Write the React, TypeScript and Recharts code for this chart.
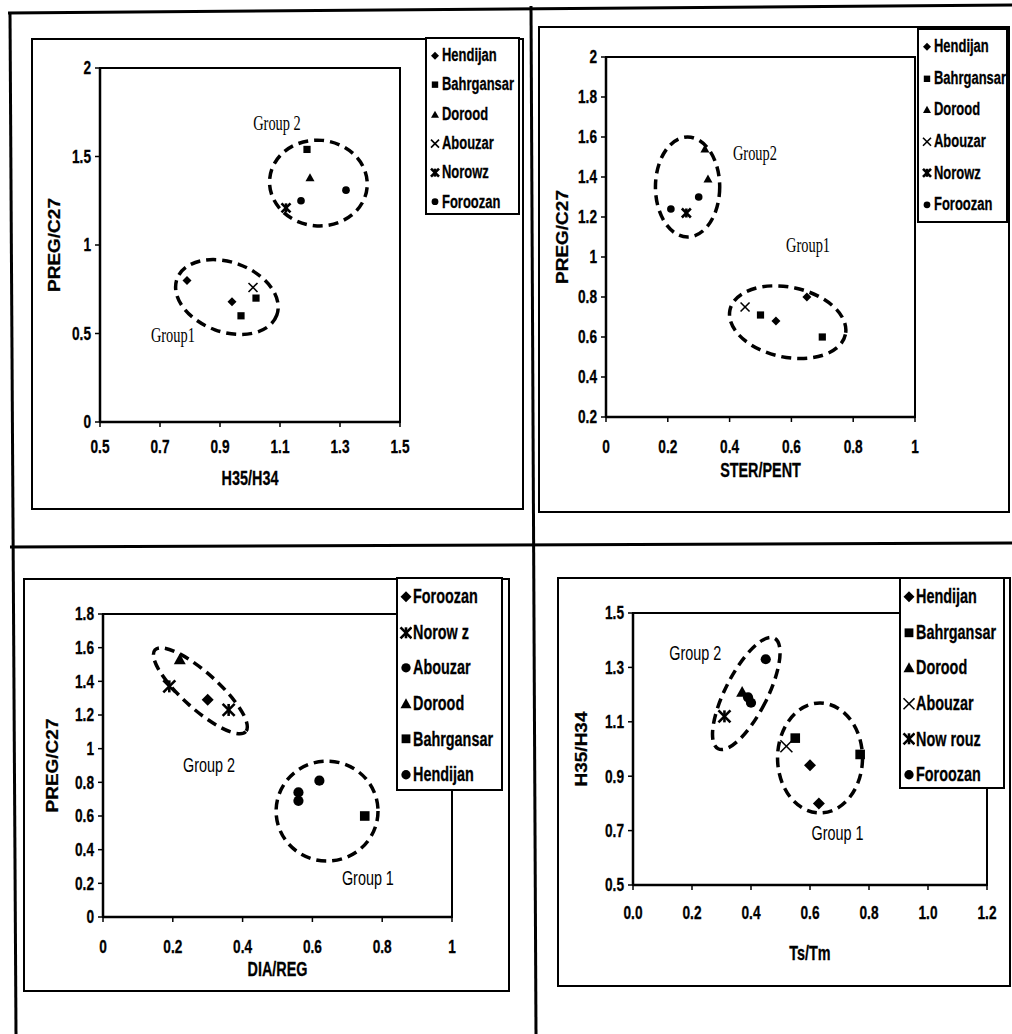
import { ScatterChart, Scatter, XAxis, YAxis, ReferenceArea, ReferenceDot, Legend, Label } from "recharts"

type Pt = { x: number; y: number }
type Kind = "diamond" | "square" | "triangle" | "x" | "star" | "circle"

// ---- panel 1: H35/H34 vs PREG/C27
const p1Hendijan: Pt[] = [{ x: 0.79, y: 0.8 }, { x: 0.94, y: 0.68 }]
const p1Bahrgansar: Pt[] = [{ x: 0.97, y: 0.6 }, { x: 1.02, y: 0.7 }, { x: 1.19, y: 1.54 }]
const p1Dorood: Pt[] = [{ x: 1.2, y: 1.38 }]
const p1Abouzar: Pt[] = [{ x: 1.01, y: 0.76 }]
const p1Norowz: Pt[] = [{ x: 1.12, y: 1.21 }]
const p1Foroozan: Pt[] = [{ x: 1.17, y: 1.25 }, { x: 1.32, y: 1.31 }]

// ---- panel 2: STER/PENT vs PREG/C27
const p2Hendijan: Pt[] = [{ x: 0.55, y: 0.68 }, { x: 0.65, y: 0.8 }]
const p2Bahrgansar: Pt[] = [{ x: 0.5, y: 0.71 }, { x: 0.7, y: 0.6 }]
const p2Dorood: Pt[] = [{ x: 0.33, y: 1.39 }, { x: 0.32, y: 1.54 }]
const p2Abouzar: Pt[] = [{ x: 0.45, y: 0.75 }]
const p2Norowz: Pt[] = [{ x: 0.26, y: 1.22 }]
const p2Foroozan: Pt[] = [{ x: 0.21, y: 1.24 }, { x: 0.3, y: 1.3 }]

// ---- panel 3: DIA/REG vs PREG/C27
const p3Foroozan: Pt[] = [{ x: 0.3, y: 1.29 }]
const p3Norowz: Pt[] = [{ x: 0.19, y: 1.37 }, { x: 0.36, y: 1.23 }]
const p3Abouzar: Pt[] = [{ x: 0.56, y: 0.74 }]
const p3Dorood: Pt[] = [{ x: 0.22, y: 1.53 }]
const p3Bahrgansar: Pt[] = [{ x: 0.75, y: 0.6 }]
const p3Hendijan: Pt[] = [{ x: 0.56, y: 0.69 }, { x: 0.62, y: 0.81 }]

// ---- panel 4: Ts/Tm vs H35/H34
const p4Hendijan: Pt[] = [{ x: 0.6, y: 0.94 }, { x: 0.63, y: 0.8 }]
const p4Bahrgansar: Pt[] = [{ x: 0.55, y: 1.04 }, { x: 0.77, y: 0.98 }]
const p4Dorood: Pt[] = [{ x: 0.37, y: 1.21 }]
const p4Abouzar: Pt[] = [{ x: 0.52, y: 1.01 }]
const p4Nowrouz: Pt[] = [{ x: 0.31, y: 1.12 }]
const p4Foroozan: Pt[] = [{ x: 0.45, y: 1.33 }, { x: 0.39, y: 1.19 }, { x: 0.4, y: 1.17 }]

const ticks1X = [0.5, 0.7, 0.9, 1.1, 1.3, 1.5]
const ticks1Y = [0, 0.5, 1, 1.5, 2]
const ticks2X = [0, 0.2, 0.4, 0.6, 0.8, 1]
const ticks2Y = [0.2, 0.4, 0.6, 0.8, 1, 1.2, 1.4, 1.6, 1.8, 2]
const ticks3X = [0, 0.2, 0.4, 0.6, 0.8, 1]
const ticks3Y = [0, 0.2, 0.4, 0.6, 0.8, 1, 1.2, 1.4, 1.6, 1.8]
const ticks4X = [0, 0.2, 0.4, 0.6, 0.8, 1.0, 1.2]
const ticks4Y = [0.5, 0.7, 0.9, 1.1, 1.3, 1.5]

const SQ = 0.72 // the scan is squeezed horizontally
const SANS = "'Liberation Sans', Arial, sans-serif"
const SERIF = "'Liberation Serif', 'Times New Roman', serif"
const Y_W = 40
const X_H = 30

function Marker({ kind, cx, cy, s }: { kind: Kind; cx: number; cy: number; s: number }) {
  switch (kind) {
    case "diamond":
      return <polygon points={`${cx},${cy - s} ${cx + s},${cy} ${cx},${cy + s} ${cx - s},${cy}`} fill="#000" />
    case "square":
      return <rect x={cx - s * 0.8} y={cy - s * 0.8} width={s * 1.6} height={s * 1.6} fill="#000" />
    case "triangle":
      return <polygon points={`${cx},${cy - s} ${cx + s},${cy + s * 0.8} ${cx - s},${cy + s * 0.8}`} fill="#000" />
    case "x":
      return (
        <g stroke="#000" strokeWidth={1.6}>
          <line x1={cx - s} y1={cy - s} x2={cx + s} y2={cy + s} />
          <line x1={cx - s} y1={cy + s} x2={cx + s} y2={cy - s} />
        </g>
      )
    case "star":
      return (
        <g stroke="#000" strokeWidth={2.6}>
          <line x1={cx - s} y1={cy - s} x2={cx + s} y2={cy + s} />
          <line x1={cx - s} y1={cy + s} x2={cx + s} y2={cy - s} />
          <line x1={cx} y1={cy - s} x2={cx} y2={cy + s} />
        </g>
      )
    default:
      return <circle cx={cx} cy={cy} r={s * 0.85} fill="#000" />
  }
}

interface Series { name: string; kind: Kind; data: Pt[] }
interface Box { left: number; top: number; right: number; bottom: number }
interface Ell { cx: number; cy: number; rx: number; ry: number; angle: number }
interface Grp { text: string; x: number; y: number }

interface PanelCfg {
  frame: Box
  plot: Box
  legend: Box & { rowH: number; padTop: number; sym: number; font: number }
  xDomain: [number, number]
  yDomain: [number, number]
  xTicks: number[]
  yTicks: number[]
  fmtX: (v: number) => string
  fmtY: (v: number) => string
  xTitle: string
  yTitle: string
  xTitleDy: number
  yTitleDx: number
  xTickDy: number
  markerSize: number
  series: Series[]
  groups: Grp[]
  groupFont: string
  ellipses: Ell[]
}

const panels: PanelCfg[] = [
  {
    frame: { left: 31, top: 38, right: 524, bottom: 510 },
    plot: { left: 100, top: 68, right: 400, bottom: 422 },
    legend: { left: 425, top: 37, right: 520, bottom: 215, rowH: 29.3, padTop: 2, sym: 4, font: 18 },
    xDomain: [0.5, 1.5], yDomain: [0, 2], xTicks: ticks1X, yTicks: ticks1Y,
    fmtX: (v) => String(v), fmtY: (v) => String(v),
    xTitle: "H35/H34", yTitle: "PREG/C27", xTitleDy: 56, yTitleDx: 45, xTickDy: 18,
    markerSize: 4.5,
    series: [
      { name: "Hendijan", kind: "diamond", data: p1Hendijan },
      { name: "Bahrgansar", kind: "square", data: p1Bahrgansar },
      { name: "Dorood", kind: "triangle", data: p1Dorood },
      { name: "Abouzar", kind: "x", data: p1Abouzar },
      { name: "Norowz", kind: "star", data: p1Norowz },
      { name: "Foroozan", kind: "circle", data: p1Foroozan },
    ],
    groups: [{ text: "Group 2", x: 1.09, y: 1.69 }, { text: "Group1", x: 0.743, y: 0.49 }],
    groupFont: SERIF,
    ellipses: [
      { cx: 1.228, cy: 1.35, rx: 0.163, ry: 0.242, angle: 5 },
      { cx: 0.923, cy: 0.706, rx: 0.177, ry: 0.197, angle: 20 },
    ],
  },
  {
    frame: { left: 538, top: 26, right: 1010, bottom: 513 },
    plot: { left: 606, top: 57, right: 915, bottom: 417 },
    legend: { left: 917, top: 28, right: 1008, bottom: 223, rowH: 31.6, padTop: 1, sym: 4, font: 18 },
    xDomain: [0, 1], yDomain: [0.2, 2], xTicks: ticks2X, yTicks: ticks2Y,
    fmtX: (v) => String(v), fmtY: (v) => String(v),
    xTitle: "STER/PENT", yTitle: "PREG/C27", xTitleDy: 53, yTitleDx: 43, xTickDy: 23,
    markerSize: 4.5,
    series: [
      { name: "Hendijan", kind: "diamond", data: p2Hendijan },
      { name: "Bahrgansar", kind: "square", data: p2Bahrgansar },
      { name: "Dorood", kind: "triangle", data: p2Dorood },
      { name: "Abouzar", kind: "x", data: p2Abouzar },
      { name: "Norowz", kind: "star", data: p2Norowz },
      { name: "Foroozan", kind: "circle", data: p2Foroozan },
    ],
    groups: [{ text: "Group2", x: 0.482, y: 1.52 }, { text: "Group1", x: 0.654, y: 1.06 }],
    groupFont: SERIF,
    ellipses: [
      { cx: 0.264, cy: 1.35, rx: 0.104, ry: 0.25, angle: 0 },
      { cx: 0.588, cy: 0.674, rx: 0.191, ry: 0.175, angle: 12 },
    ],
  },
  {
    frame: { left: 23, top: 578, right: 510, bottom: 992 },
    plot: { left: 103, top: 614, right: 452, bottom: 917 },
    legend: { left: 396, top: 577, right: 503, bottom: 791, rowH: 35.6, padTop: 0, sym: 5.5, font: 20 },
    xDomain: [0, 1], yDomain: [0, 1.8], xTicks: ticks3X, yTicks: ticks3Y,
    fmtX: (v) => String(v), fmtY: (v) => String(v),
    xTitle: "DIA/REG", yTitle: "PREG/C27", xTitleDy: 52, yTitleDx: 50, xTickDy: 23,
    markerSize: 6,
    series: [
      { name: "Foroozan", kind: "diamond", data: p3Foroozan },
      { name: "Norow z", kind: "star", data: p3Norowz },
      { name: "Abouzar", kind: "circle", data: p3Abouzar },
      { name: "Dorood", kind: "triangle", data: p3Dorood },
      { name: "Bahrgansar", kind: "square", data: p3Bahrgansar },
      { name: "Hendijan", kind: "circle", data: p3Hendijan },
    ],
    groups: [{ text: "Group 2", x: 0.304, y: 0.902 }, { text: "Group 1", x: 0.759, y: 0.231 }],
    groupFont: SANS,
    ellipses: [
      { cx: 0.279, cy: 1.344, rx: 0.175, ry: 0.107, angle: 42 },
      { cx: 0.642, cy: 0.629, rx: 0.146, ry: 0.297, angle: 0 },
    ],
  },
  {
    frame: { left: 557, top: 577, right: 1011, bottom: 987 },
    plot: { left: 633, top: 613, right: 987, bottom: 885 },
    legend: { left: 899, top: 577, right: 1005, bottom: 789, rowH: 35.6, padTop: 0, sym: 5.5, font: 20 },
    xDomain: [0, 1.2], yDomain: [0.5, 1.5], xTicks: ticks4X, yTicks: ticks4Y,
    fmtX: (v) => v.toFixed(1), fmtY: (v) => v.toFixed(1),
    xTitle: "Ts/Tm", yTitle: "H35/H34", xTitleDy: 68, yTitleDx: 51, xTickDy: 21,
    markerSize: 6,
    series: [
      { name: "Hendijan", kind: "diamond", data: p4Hendijan },
      { name: "Bahrgansar", kind: "square", data: p4Bahrgansar },
      { name: "Dorood", kind: "triangle", data: p4Dorood },
      { name: "Abouzar", kind: "x", data: p4Abouzar },
      { name: "Now rouz", kind: "star", data: p4Nowrouz },
      { name: "Foroozan", kind: "circle", data: p4Foroozan },
    ],
    groups: [{ text: "Group 2", x: 0.211, y: 1.353 }, { text: "Group 1", x: 0.693, y: 0.691 }],
    groupFont: SANS,
    ellipses: [
      { cx: 0.384, cy: 1.204, rx: 0.071, ry: 0.228, angle: 27 },
      { cx: 0.634, cy: 0.967, rx: 0.144, ry: 0.202, angle: 0 },
    ],
  },
]

function LegendBox({ cfg }: { cfg: PanelCfg }) {
  const lg = cfg.legend
  return (
    <div style={{ background: "#fff", border: "2px solid #000", boxSizing: "border-box", width: "100%", height: "100%", paddingTop: lg.padTop }}>
      {cfg.series.map((s) => (
        <div key={s.name} style={{ height: lg.rowH, display: "flex", alignItems: "center" }}>
          <svg width={14} height={lg.rowH} style={{ flex: "none" }}>
            <Marker kind={s.kind} cx={8} cy={lg.rowH / 2} s={lg.sym} />
          </svg>
          <span style={{ fontFamily: SANS, fontWeight: "bold", fontSize: lg.font, display: "inline-block", whiteSpace: "nowrap", transform: `scaleX(${SQ})`, transformOrigin: "left center", marginLeft: 1, color: "#000", WebkitTextStroke: "0.3px #000" }}>
            {s.name}
          </span>
        </div>
      ))}
    </div>
  )
}

function Panel({ cfg }: { cfg: PanelCfg }) {
  const f = cfg.frame
  const p = cfg.plot
  const w = f.right - f.left
  const h = f.bottom - f.top
  const margin = {
    left: p.left - f.left - Y_W,
    top: p.top - f.top,
    right: f.right - p.right,
    bottom: f.bottom - p.bottom - X_H,
  }
  const tickStyle = { fontFamily: SANS, fontWeight: "bold" as const, fontSize: 19, fill: "#000", stroke: "#000", strokeWidth: 0.3 }
  const titleStyle = { fontFamily: SANS, fontWeight: "bold" as const, fontSize: 20, fill: "#000", stroke: "#000", strokeWidth: 0.3 }

  const xTick = (t: any) => (
    <text transform={`translate(${t.x},${t.y + cfg.xTickDy}) scale(${SQ},1)`} textAnchor="middle" dominantBaseline="central" style={tickStyle}>
      {cfg.fmtX(t.payload.value)}
    </text>
  )
  const yTick = (t: any) => (
    <text transform={`translate(${t.x},${t.y}) scale(${SQ},1)`} textAnchor="end" dominantBaseline="central" style={tickStyle}>
      {cfg.fmtY(t.payload.value)}
    </text>
  )
  const xTitle = (lp: any) => {
    const vb = lp.viewBox
    return (
      <text transform={`translate(${vb.x + vb.width / 2},${vb.y + cfg.xTitleDy}) scale(${SQ},1)`} textAnchor="middle" dominantBaseline="central" style={titleStyle}>
        {cfg.xTitle}
      </text>
    )
  }
  const yTitle = (lp: any) => {
    const vb = lp.viewBox
    return (
      <text transform={`translate(${vb.x + vb.width - cfg.yTitleDx},${vb.y + vb.height / 2}) scale(0.85,1) rotate(-90)`} textAnchor="middle" dominantBaseline="central" style={{ ...titleStyle, fontSize: 19 }}>
        {cfg.yTitle}
      </text>
    )
  }

  return (
    <div style={{ position: "absolute", left: f.left, top: f.top, width: w, height: h, border: "2px solid #000", boxSizing: "border-box", background: "#fff" }}>
      <div style={{ position: "absolute", left: -2, top: -2 }}>
        <ScatterChart width={w} height={h} margin={margin}>
          <XAxis
            type="number" dataKey="x" domain={cfg.xDomain} ticks={cfg.xTicks} interval={0} allowDataOverflow
            height={X_H} tickSize={5} tickMargin={2} tick={xTick}
            axisLine={{ stroke: "#000", strokeWidth: 2.5 }} tickLine={{ stroke: "#000", strokeWidth: 1.5 }}
          >
            <Label content={xTitle} />
          </XAxis>
          <YAxis
            type="number" dataKey="y" domain={cfg.yDomain} ticks={cfg.yTicks} interval={0} allowDataOverflow
            width={Y_W} tickSize={5} tickMargin={4} tick={yTick}
            axisLine={{ stroke: "#000", strokeWidth: 2.5 }} tickLine={{ stroke: "#000", strokeWidth: 1.5 }}
          >
            <Label content={yTitle} />
          </YAxis>
          <ReferenceArea
            x1={cfg.xDomain[0]} x2={cfg.xDomain[1]} y1={cfg.yDomain[0]} y2={cfg.yDomain[1]}
            fill="none" fillOpacity={0} stroke="#000" strokeWidth={2} ifOverflow="visible"
          />
          {cfg.ellipses.map((e, i) => (
            <ReferenceArea
              key={`e${i}`}
              x1={e.cx - e.rx} x2={e.cx + e.rx} y1={e.cy - e.ry} y2={e.cy + e.ry}
              ifOverflow="visible"
              shape={(r: any) => {
                const cx = r.x + r.width / 2
                const cy = r.y + r.height / 2
                return (
                  <ellipse
                    cx={cx} cy={cy} rx={Math.abs(r.width) / 2} ry={Math.abs(r.height) / 2}
                    transform={`rotate(${e.angle} ${cx} ${cy})`}
                    fill="none" stroke="#000" strokeWidth={3.5} strokeDasharray="10 6"
                  />
                )
              }}
            />
          ))}
          {cfg.series.map((s) => (
            <Scatter
              key={s.name} name={s.name} data={s.data} isAnimationActive={false}
              shape={(d: any) => <Marker kind={s.kind} cx={d.cx} cy={d.cy} s={cfg.markerSize} />}
            />
          ))}
          {cfg.groups.map((g) => (
            <ReferenceDot
              key={g.text} x={g.x} y={g.y} ifOverflow="visible"
              shape={(d: any) => (
                <text transform={`translate(${d.cx},${d.cy}) scale(${SQ},1)`} textAnchor="middle" dominantBaseline="central"
                  style={{ fontFamily: cfg.groupFont, fontSize: 20, fill: "#000" }}>
                  {g.text}
                </text>
              )}
            />
          ))}
          <Legend
            layout="vertical" align="center" verticalAlign="middle"
            wrapperStyle={{
              left: cfg.legend.left - f.left,
              top: cfg.legend.top - f.top,
              width: cfg.legend.right - cfg.legend.left,
              height: cfg.legend.bottom - cfg.legend.top,
            }}
            content={() => <LegendBox cfg={cfg} />}
          />
        </ScatterChart>
      </div>
    </div>
  )
}

export default function App() {
  return (
    <div style={{ position: "absolute", left: 0, top: 0, width: 1012, height: 1034, background: "#fff", overflow: "hidden" }}>
      <svg width={1012} height={1034} style={{ position: "absolute", left: 0, top: 0 }}>
        <g stroke="#000" strokeWidth={3}>
          <line x1={8} y1={13} x2={1012} y2={5} />
          <line x1={10} y1={12} x2={16} y2={1034} />
          <line x1={531} y1={6} x2={536} y2={1034} />
          <line x1={10} y1={547} x2={1012} y2={543} />
        </g>
      </svg>
      {panels.map((c, i) => (
        <Panel key={i} cfg={c} />
      ))}
    </div>
  )
}
